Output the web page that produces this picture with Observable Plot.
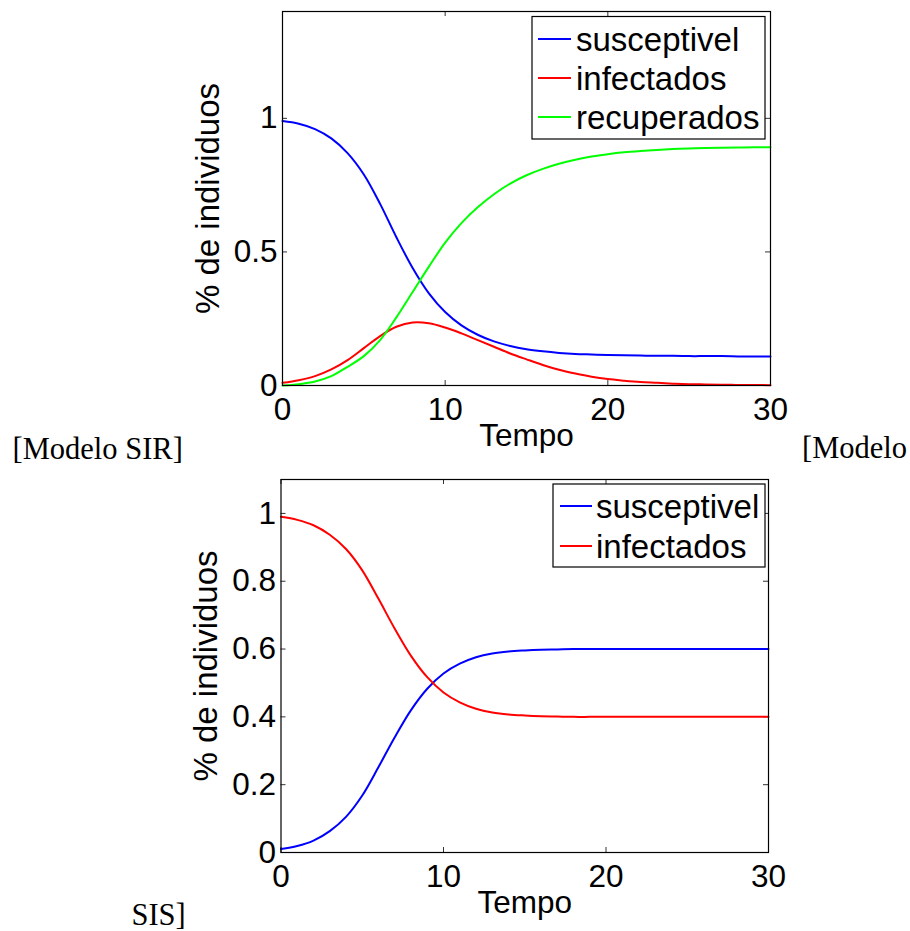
<!DOCTYPE html>
<html>
<head>
<meta charset="utf-8">
<script src="https://cdn.jsdelivr.net/npm/d3@7"></script>
<script src="https://cdn.jsdelivr.net/npm/@observablehq/plot@0.6"></script>
<style>
  body { margin: 0; background: #fff; }
  #page { position: relative; width: 910px; height: 931px; overflow: hidden; background: #fff; }
  .chart { position: absolute; left: 0; }
  #overlay { position: absolute; left: 0; top: 0; pointer-events: none; }
</style>
</head>
<body>
<div id="page"></div>
<script>
// Time axis (days) shared by both models
const tempo = [0,1,2,3,4,5,6,7,8,9,10,11,12,13,14,15,16,17,18,19,20,21,22,23,24,25,26,27,28,29,30];

// SIR model: fraction of individuals in each compartment
const sirSusceptivel = [0.99,0.98,0.96,0.925,0.87,0.79,0.68,0.555,0.44,0.345,0.275,0.225,0.19,0.165,0.148,0.136,0.128,0.122,0.118,0.116,0.114,0.113,0.112,0.111,0.111,0.11,0.11,0.11,0.109,0.109,0.109];
const sirInfectados  = [0.01,0.02,0.035,0.06,0.095,0.14,0.185,0.22,0.236,0.233,0.217,0.195,0.17,0.145,0.12,0.098,0.077,0.059,0.045,0.033,0.024,0.018,0.013,0.01,0.007,0.005,0.004,0.003,0.002,0.002,0.001];
const sirRecuperados = [0,0.005,0.015,0.035,0.07,0.11,0.17,0.255,0.35,0.445,0.535,0.608,0.667,0.716,0.756,0.787,0.811,0.83,0.845,0.857,0.866,0.873,0.878,0.882,0.885,0.887,0.889,0.89,0.891,0.892,0.892];

// SIS model
const sisSusceptivel = [0.01,0.019,0.035,0.063,0.105,0.168,0.252,0.34,0.42,0.483,0.528,0.557,0.576,0.587,0.593,0.596,0.598,0.599,0.6,0.6,0.6,0.6,0.6,0.6,0.6,0.6,0.6,0.6,0.6,0.6,0.6];
const sisInfectados  = [0.99,0.981,0.965,0.937,0.895,0.832,0.748,0.66,0.58,0.517,0.472,0.443,0.424,0.413,0.407,0.404,0.402,0.401,0.4,0.4,0.4,0.4,0.4,0.4,0.4,0.4,0.4,0.4,0.4,0.4,0.4];

// Axis ticks and labels
const xTicks = [0, 10, 20, 30];
const sirYTicks = [0, 0.5, 1];
const sisYTicks = [0, 0.2, 0.4, 0.6, 0.8, 1];
const xLabel = "Tempo";
const yLabel = "% de individuos";

// Series names and colours
const nomes = ["susceptivel", "infectados", "recuperados"];
const cores = ["#0000ff", "#ff0000", "#00ff00"];

const FONT = "'Liberation Sans', Arial, Helvetica, sans-serif";
const SERIF = "'Liberation Serif', 'Times New Roman', serif";
const W = 910;

function panel({height, mLeft, mRight, mTop, mBottom, yMax, yTicks, series}) {
  const innerW = W - mLeft - mRight;
  const innerH = height - mTop - mBottom;
  const tick = 5;
  return Plot.plot({
    width: W,
    height,
    marginLeft: mLeft,
    marginRight: mRight,
    marginTop: mTop,
    marginBottom: mBottom,
    style: {fontFamily: FONT, fontSize: "31.5px", color: "#000", background: "transparent", overflow: "visible"},
    x: {domain: [0, 30]},
    y: {domain: [0, yMax]},
    marks: [
      // inward tick marks on all four sides of the box
      Plot.ruleX(xTicks, {insetTop: innerH - tick, stroke: "#333", strokeWidth: 1}),
      Plot.ruleX(xTicks, {insetBottom: innerH - tick, stroke: "#333", strokeWidth: 1}),
      Plot.ruleY(yTicks, {insetRight: innerW - tick, stroke: "#333", strokeWidth: 1}),
      Plot.ruleY(yTicks, {insetLeft: innerW - tick, stroke: "#333", strokeWidth: 1}),
      ...series.map(s => Plot.line(s.values, {
        x: (d, i) => tempo[i], y: d => d,
        stroke: s.color, strokeWidth: 2, curve: "catmull-rom"
      })),
      Plot.frame({stroke: "#000", strokeWidth: 1.2}),
      Plot.axisX({ticks: xTicks, tickSize: 0, tickPadding: 12, fontSize: 31.5,
        label: xLabel, labelAnchor: "center", labelOffset: 60, labelArrow: "none"}),
      Plot.axisY({ticks: yTicks, tickSize: 0, tickPadding: 5, fontSize: 31.5, tickFormat: d3.format(""),
        label: null}),
      Plot.axisY({ticks: [], tickSize: 0, fontSize: 33,
        label: yLabel, labelAnchor: "center", labelOffset: 87, labelArrow: "none"})
    ]
  });
}

const page = document.getElementById("page");

const sir = panel({
  height: 470, mLeft: 282, mRight: 140, mTop: 11, mBottom: 85,
  yMax: 1.4, yTicks: sirYTicks,
  series: [
    {values: sirSusceptivel, color: cores[0]},
    {values: sirInfectados, color: cores[1]},
    {values: sirRecuperados, color: cores[2]}
  ]
});
sir.classList.add("chart");
sir.style.top = "0px";
page.appendChild(sir);

const sis = panel({
  height: 461, mLeft: 280.5, mRight: 142, mTop: 9, mBottom: 79,
  yMax: 1.1, yTicks: sisYTicks,
  series: [
    {values: sisSusceptivel, color: cores[0]},
    {values: sisInfectados, color: cores[1]}
  ]
});
sis.classList.add("chart");
sis.style.top = "470px";
page.appendChild(sis);

// Legends and sub-captions
const overlay = d3.select(page).append("svg")
  .attr("id", "overlay").attr("width", W).attr("height", 931);

function legend(box, rows, lineX, textX, rowY) {
  const g = overlay.append("g");
  g.append("rect")
    .attr("x", box[0]).attr("y", box[1])
    .attr("width", box[2] - box[0]).attr("height", box[3] - box[1])
    .attr("fill", "#fff").attr("stroke", "#000").attr("stroke-width", 1.2);
  rows.forEach((r, i) => {
    const y = rowY[i];
    g.append("line").attr("x1", lineX[0]).attr("x2", lineX[1])
      .attr("y1", y).attr("y2", y).attr("stroke", r.color).attr("stroke-width", 2);
    g.append("text").attr("x", textX).attr("y", y + 11.5)
      .attr("font-family", FONT).attr("font-size", 33).attr("fill", "#000").text(r.name);
  });
}

legend([532, 16.5, 765, 139],
  nomes.map((n, i) => ({name: n, color: cores[i]})),
  [538, 571], 576, [39, 78, 117]);

legend([553, 484, 765, 567],
  nomes.slice(0, 2).map((n, i) => ({name: n, color: cores[i]})),
  [560, 592], 596, [506, 546]);

const captions = [
  {text: "[Modelo SIR]", x: 12.5, y: 459},
  {text: "[Modelo", x: 802, y: 458},
  {text: "SIS]", x: 131.5, y: 925}
];
overlay.selectAll("text.cap").data(captions).join("text")
  .attr("class", "cap")
  .attr("x", d => d.x).attr("y", d => d.y)
  .attr("font-family", SERIF).attr("font-size", 30.5).attr("fill", "#000")
  .text(d => d.text);
</script>
</body>
</html>
